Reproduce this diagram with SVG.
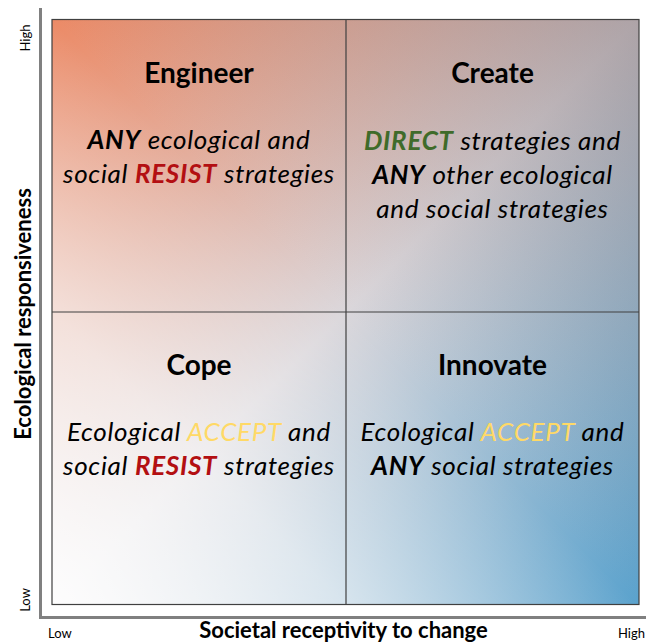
<svg xmlns="http://www.w3.org/2000/svg" width="646" height="644" viewBox="0 0 646 644">
  <defs>
    <!-- main diagonal wash: warm top-left to cool bottom-right -->
    <linearGradient id="washMain" x1="0" y1="0" x2="1" y2="1">
      <stop offset="0" stop-color="#ec8a66"/>
      <stop offset="0.5" stop-color="#dbd7db"/>
      <stop offset="1" stop-color="#5aa2cd"/>
    </linearGradient>
    <!-- cross diagonal: lighten bottom-left, darken top-right -->
    <linearGradient id="washCross" x1="0" y1="1" x2="1" y2="0">
      <stop offset="0" stop-color="#ffffff" stop-opacity="0.95"/>
      <stop offset="0.25" stop-color="#ffffff" stop-opacity="0.6"/>
      <stop offset="0.5" stop-color="#ffffff" stop-opacity="0"/>
      <stop offset="0.5" stop-color="#5a4448" stop-opacity="0"/>
      <stop offset="1" stop-color="#5a4448" stop-opacity="0.35"/>
    </linearGradient>
    <style>
      .title { font-family: Lato, "Open Sans", sans-serif; font-weight: 700; font-size: 28px; fill: #000; text-anchor: middle; }
      .body { font-family: Lato, "Open Sans", sans-serif; font-style: italic; font-size: 26px; letter-spacing: 0.7px; fill: #000; text-anchor: middle; }
      .b { font-weight: 700; }
      .resist { font-weight: 700; fill: #b30f12; }
      .direct { font-weight: 700; fill: #3f6b2a; }
      .accept { fill: #ffd966; }
      .axis { stroke: #808080; stroke-width: 3; fill: none; }
      .axisTitle { font-family: Lato, "Open Sans", sans-serif; font-weight: 700; font-size: 22px; fill: #000; text-anchor: middle; }
      .tick { font-family: Lato, "Open Sans", sans-serif; font-size: 13px; fill: #000; }
      .grid { stroke: #404040; stroke-width: 1.2; fill: none; }
    </style>
  </defs>

  <!-- background matrix -->
  <g id="matrix">
    <rect x="52" y="19.5" width="587" height="585" fill="url(#washMain)"/>
    <rect x="52" y="19.5" width="587" height="585" fill="url(#washCross)"/>
    <rect class="grid" x="52" y="19.5" width="587" height="585"/>
    <line class="grid" x1="346" y1="19.5" x2="346" y2="604.5"/>
    <line class="grid" x1="52" y1="312" x2="639" y2="312"/>
  </g>

  <!-- axes -->
  <g id="axes">
    <line class="axis" x1="40.5" y1="8" x2="40.5" y2="618"/>
    <line class="axis" x1="39" y1="617.5" x2="646" y2="617.5"/>
    <text class="axisTitle" transform="translate(31 314) rotate(-90)">Ecological responsiveness</text>
    <text class="axisTitle" x="343.5" y="638">Societal receptivity to change</text>
    <text class="tick" transform="translate(30 38) rotate(-90)" text-anchor="middle">High</text>
    <text class="tick" transform="translate(30 600) rotate(-90)" text-anchor="middle">Low</text>
    <text class="tick" x="48" y="638">Low</text>
    <text class="tick" x="645" y="638" text-anchor="end">High</text>
  </g>

  <!-- quadrants -->
  <g id="engineer">
    <text class="title" x="199" y="83">Engineer</text>
    <text class="body" x="199" y="149"><tspan class="b">ANY</tspan> ecological and</text>
    <text class="body" x="199" y="183">social <tspan class="resist">RESIST</tspan> strategies</text>
  </g>

  <g id="create">
    <text class="title" x="492.5" y="83">Create</text>
    <text class="body" x="492.5" y="150"><tspan class="direct">DIRECT</tspan> strategies and</text>
    <text class="body" x="492.5" y="184"><tspan class="b">ANY</tspan> other ecological</text>
    <text class="body" x="492.5" y="218">and social strategies</text>
  </g>

  <g id="cope">
    <text class="title" x="199" y="375">Cope</text>
    <text class="body" x="199" y="441">Ecological <tspan class="accept">ACCEPT</tspan> and</text>
    <text class="body" x="199" y="475">social <tspan class="resist">RESIST</tspan> strategies</text>
  </g>

  <g id="innovate">
    <text class="title" x="492.5" y="375">Innovate</text>
    <text class="body" x="492.5" y="441">Ecological <tspan class="accept">ACCEPT</tspan> and</text>
    <text class="body" x="492.5" y="475"><tspan class="b">ANY</tspan> social strategies</text>
  </g>
</svg>
